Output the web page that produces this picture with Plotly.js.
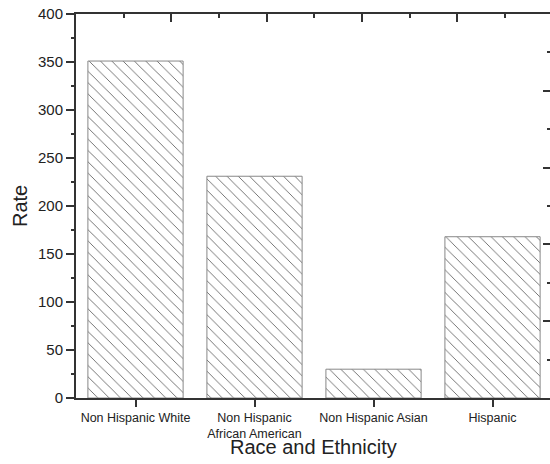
<!DOCTYPE html>
<html>
<head>
<meta charset="utf-8">
<script src="https://cdn.plot.ly/plotly-3.0.1.min.js"></script>
<style>html,body{margin:0;padding:0;overflow:hidden;background:#fff}</style>
</head>
<body>
<div id="chart" style="width:550px;height:464px"></div>
<script>
const categories = ["Non Hispanic White", "Non Hispanic<br>African American", "Non Hispanic Asian", "Hispanic"];
const rates = [351, 231, 30, 168];
const xTitle = 'Race and Ethnicity';
const yTitle = 'Rate';

const axisColor = '#333';
const fam = 'Liberation Sans, Arial, sans-serif';
const trace = {
  type: 'bar',
  x: categories,
  y: rates,
  width: 0.8,
  marker: {
    color: 'white',
    line: {color: '#888', width: 1},
    pattern: {shape: '\\', fgcolor: '#555', bgcolor: 'white', size: 8, solidity: 0.1}
  },
  showlegend: false
};
function helper(xa, ya, xs, ys) {
  return {type: 'scatter', x: xs, y: ys, xaxis: xa, yaxis: ya, mode: 'markers', marker: {opacity: 0}, showlegend: false};
}
const helpers = [
  helper('x2', 'y2', [0.1, 4.9], [0.1, 4.9]),
  helper('x3', 'y3', [0.1, 4.9], [0.1, 4.9]),
  helper('x', 'y4', [categories[0]], [1])
];

function tickAxis(extra) {
  return Object.assign({
    type: 'linear', tickmode: 'linear', tick0: 0, tickwidth: 2, tickcolor: axisColor,
    showticklabels: false, showgrid: false, zeroline: false, showline: false
  }, extra);
}

const layout = {
  width: 550, height: 464,
  margin: {l: 76, r: 0, t: 14, b: 66},
  xaxis: {
    type: 'category',
    range: [-0.5, 3.483],
    showline: true, linecolor: axisColor, linewidth: 2,
    ticks: 'outside', ticklen: 7, tickwidth: 2, tickcolor: axisColor,
    tickfont: {family: fam, size: 12.5, color: '#222'},
    showgrid: false, zeroline: false
  },
  // top and right axes (major ticks)
  xaxis2: tickAxis({anchor: 'y2', overlaying: 'x', side: 'top', range: [0, 4.97], dtick: 1, ticks: 'inside', ticklen: 8,
                    showline: true, linecolor: axisColor, linewidth: 2}),
  yaxis2: tickAxis({anchor: 'x2', overlaying: 'y', side: 'right', range: [0, 5], dtick: 1, ticks: 'inside', ticklen: 7}),
  // top and right axes (minor ticks)
  xaxis3: tickAxis({anchor: 'y3', overlaying: 'x', side: 'top', range: [0, 4.97], dtick: 0.5, ticks: 'inside', ticklen: 4}),
  yaxis3: tickAxis({anchor: 'x3', overlaying: 'y', side: 'right', range: [0, 5], dtick: 0.5, ticks: 'inside', ticklen: 3}),
  yaxis: {
    range: [0, 400],
    tickmode: 'linear', tick0: 0, dtick: 50,
    showline: true, linecolor: axisColor, linewidth: 2,
    ticks: 'outside', ticklen: 8, tickwidth: 2, tickcolor: axisColor,
    tickfont: {family: fam, size: 15, color: '#222'},
    showgrid: false, zeroline: false
  },
  // left minor ticks
  yaxis4: tickAxis({anchor: 'x', overlaying: 'y', side: 'left', range: [0, 400], dtick: 25, ticks: 'outside', ticklen: 4}),
  annotations: [
    {text: xTitle, xref: 'paper', yref: 'paper', x: 0.5, y: -0.128, xanchor: 'center', yanchor: 'middle',
     showarrow: false, font: {family: fam, size: 20, color: '#222'}},
    {text: yTitle, xref: 'paper', yref: 'paper', x: -0.118, y: 0.5, xanchor: 'center', yanchor: 'middle', textangle: -90,
     showarrow: false, font: {family: fam, size: 20, color: '#222'}}
  ],
  bargap: 0.2
};

Plotly.newPlot('chart', [trace].concat(helpers), layout, {displayModeBar: false, staticPlot: true});
</script>
</body>
</html>
